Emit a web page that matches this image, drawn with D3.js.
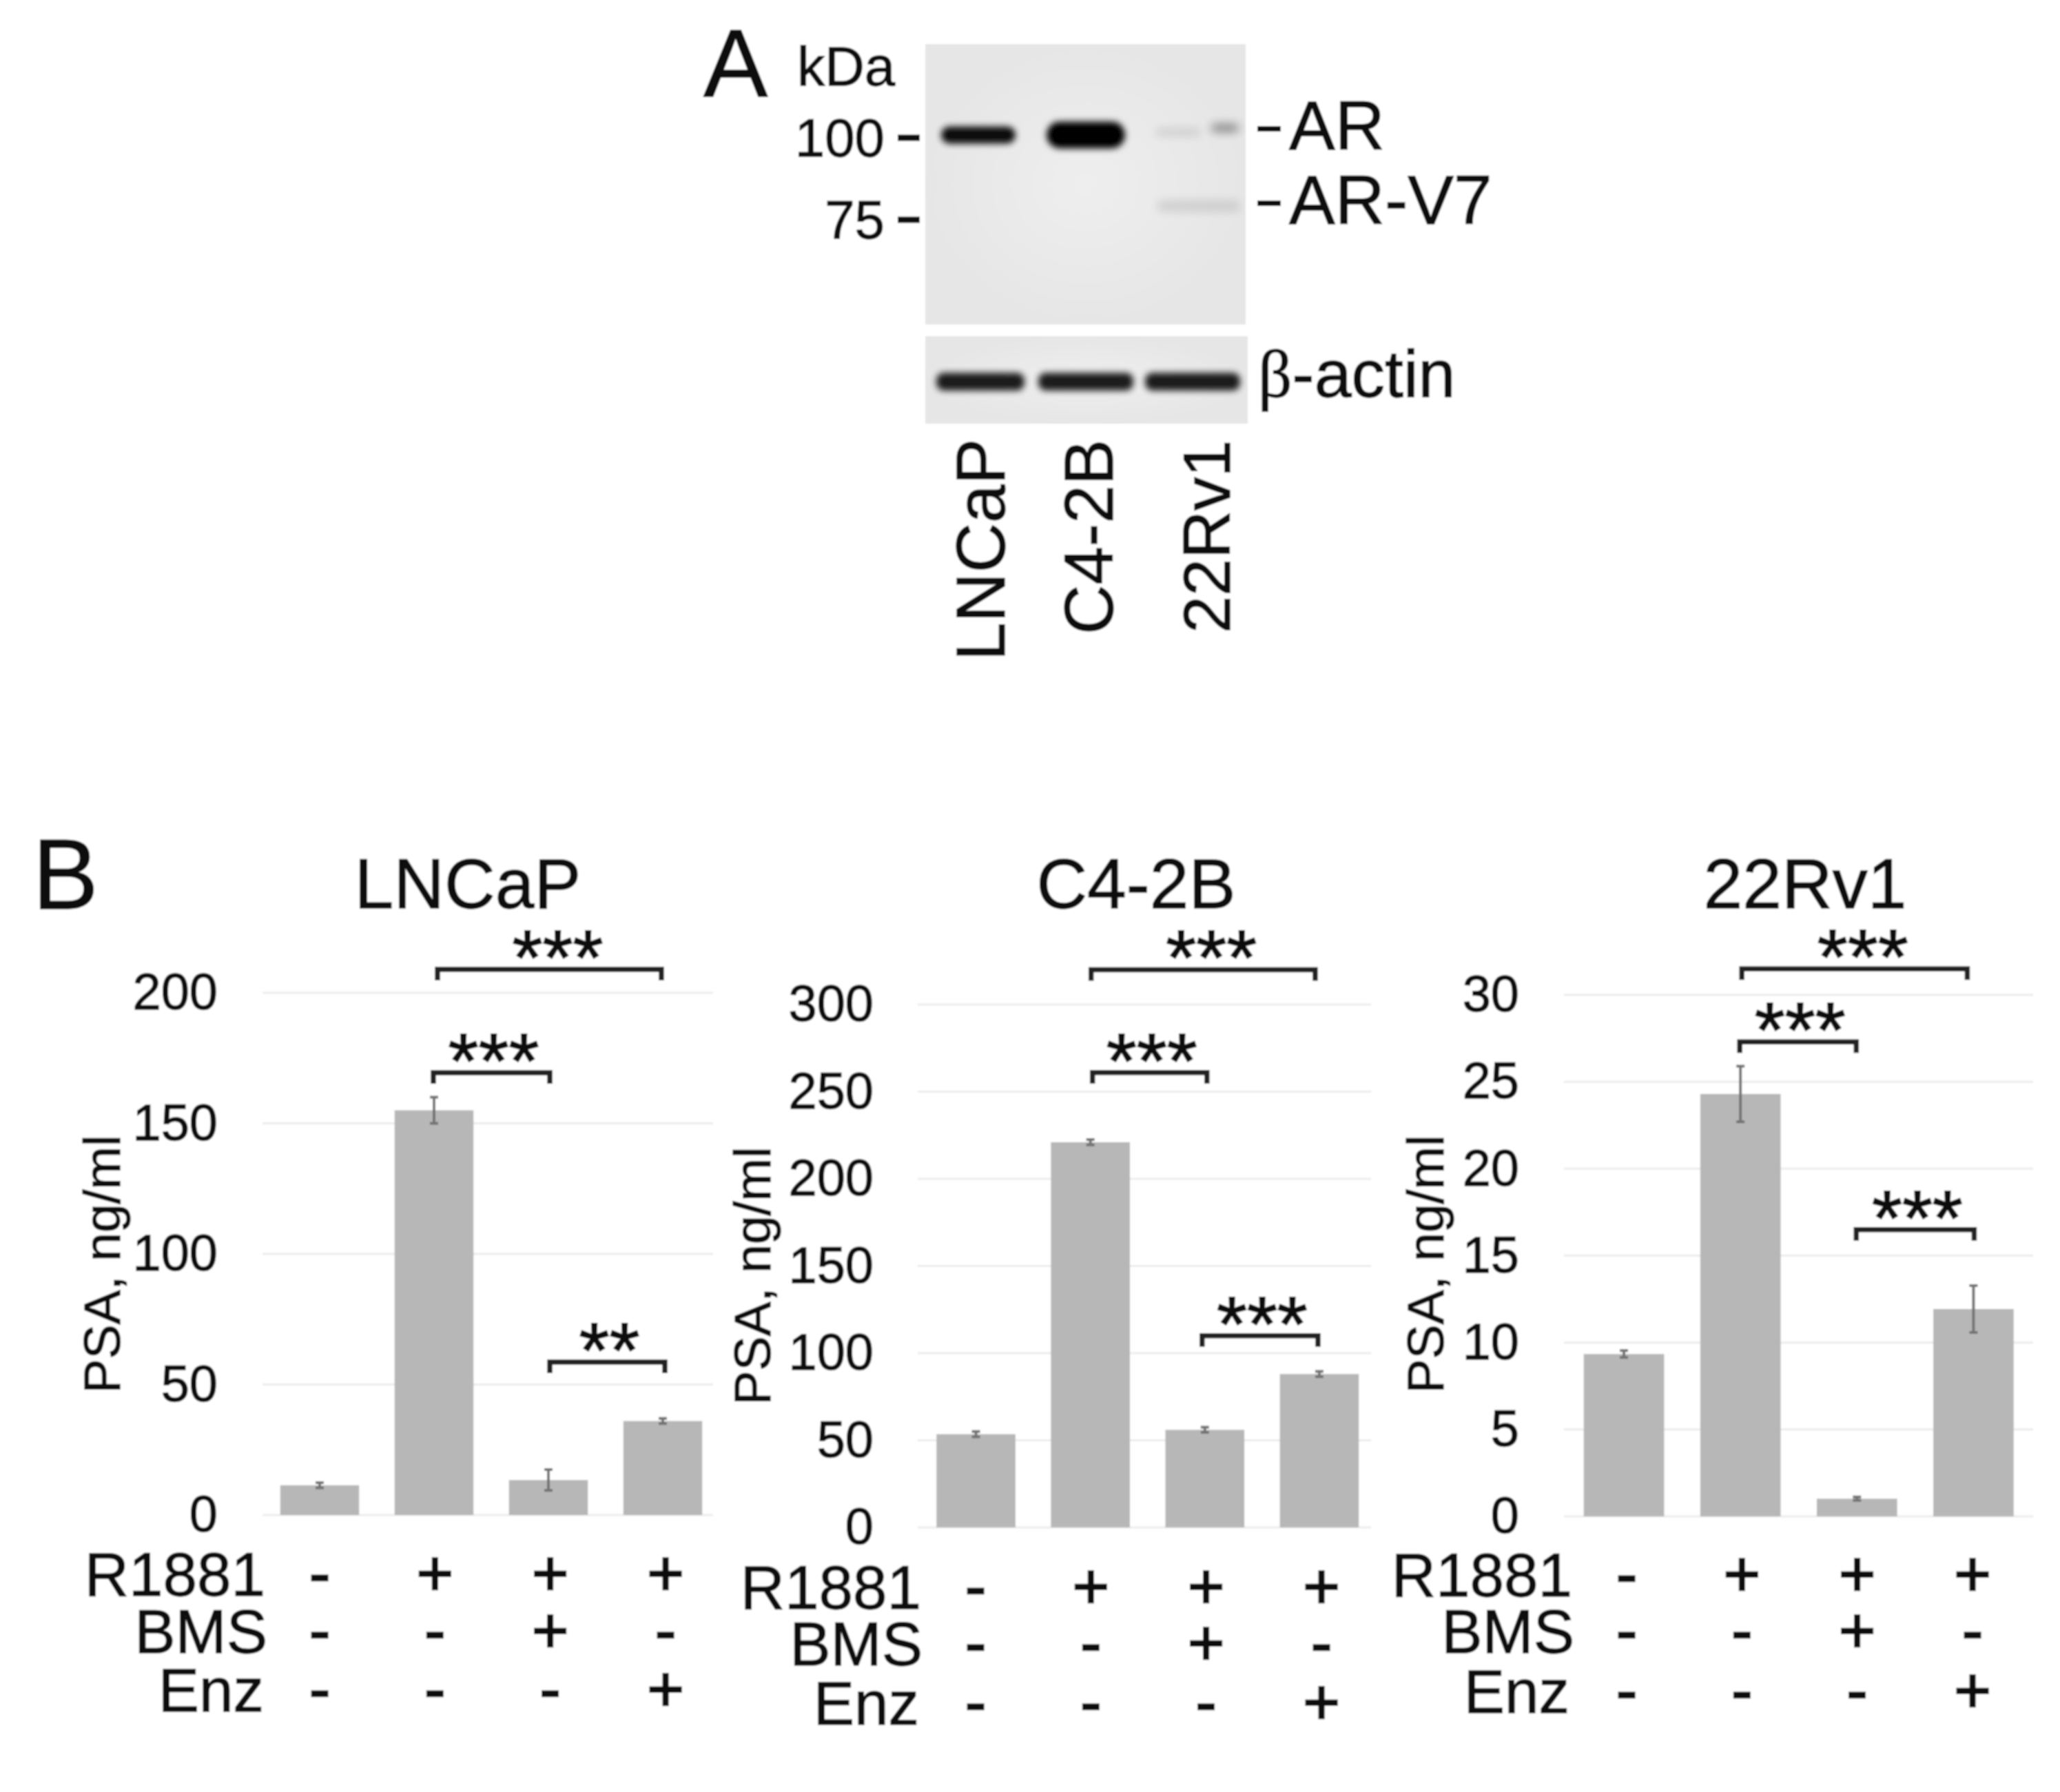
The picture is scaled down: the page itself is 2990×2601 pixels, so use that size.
<!DOCTYPE html>
<html><head><meta charset="utf-8">
<script src="https://cdn.jsdelivr.net/npm/d3@7"></script>
<style>
html,body{margin:0;padding:0;background:#fff}
svg{display:block}
text{font-family:"Liberation Sans",Arial,sans-serif;fill:#111;stroke:#111;stroke-width:1.3px}
</style></head><body>
<svg id="fig" width="2990" height="2601"></svg>
<script>
// ---------- data ----------
const lanes = ["LNCaP", "C4-2B", "22Rv1"];
const markerKDa = [100, 75];
const bandLane = ["LNCaP", "C4-2B", "22Rv1", "22Rv1", "22Rv1"];
const bandKDa = [101, 101, 102, 103.5, 78.7];
const bandDensity = [0.95, 1, 0.14, 0.45, 0.12];
const actinDensity = [0.88, 0.88, 0.88];
const conditions = ["ctrl", "R1881", "R1881+BMS", "R1881+Enz"];
const rowNames = ["R1881", "BMS", "Enz"];
const rowSigns = [["-", "+", "+", "+"], ["-", "-", "+", "-"], ["-", "-", "-", "+"]];

const lncapValues = [11.4, 155, 13.4, 36];
const lncapErrors = [1, 5, 4, 1];
const lncapTicks = [0, 50, 100, 150, 200];
const lncapBrackets = [[1, 3, 209, "***"], [1, 2, 169.4, "***"], [2, 3, 58.6, "**"]];

const c42bValues = [53.5, 221, 56, 88];
const c42bErrors = [1.5, 1.5, 1.5, 1.5];
const c42bTicks = [0, 50, 100, 150, 200, 250, 300];
const c42bBrackets = [[1, 3, 320, "***"], [1, 2, 261, "***"], [2, 3, 110, "***"]];

const rv1Values = [9.34, 24.3, 1.02, 11.93];
const rv1Errors = [0.2, 1.6, 0.1, 1.35];
const rv1Ticks = [0, 5, 10, 15, 20, 25, 30];
const rv1Brackets = [[1, 3, 31.5, "***"], [1, 2, 27.3, "***"], [2, 3, 16.5, "***"]];

// ---------- layout ----------
const panels = [
  {title: "LNCaP", values: lncapValues, errors: lncapErrors, ticks: lncapTicks, brackets: lncapBrackets,
   yr: [2199, 1441], xr: [381, 1045], grid: [381, 1035], tickX: 316, titleX: 679, labelX: 174, labelY: 1835,
   signX: [464, 966], rowY: [2285, 2368, 2453], rowX: [385, 388, 383],
   nudge: [[5, -2], [-1, 2], [2, 3]]},
  {title: "C4-2B", values: c42bValues, errors: c42bErrors, ticks: c42bTicks, brackets: c42bBrackets,
   yr: [2217, 1458], xr: [1333.5, 1998], grid: [1332, 1990], tickX: 1268, titleX: 1649, labelX: 1118, labelY: 1852,
   signX: [1416, 1918], rowY: [2304, 2386, 2472], rowX: [1337, 1339, 1334],
   nudge: [[1, -6], [3, 3], [-4, -2]]},
  {title: "22Rv1", values: rv1Values, errors: rv1Errors, ticks: rv1Ticks, brackets: rv1Brackets,
   yr: [2201, 1444], xr: [2272.5, 2949], grid: [2270, 2951], tickX: 2205, titleX: 2620, labelX: 2095, labelY: 1835,
   signX: [2361, 2863], rowY: [2286, 2368, 2455], rowX: [2282, 2285, 2278],
   nudge: [[2, -9], [-1, -1], [-1, 1]]}
];
const svg = d3.select("#fig");
const defs = svg.append("defs");
const addBlur = (id, s) => defs.append("filter").attr("id", id)
  .attr("x", "-30%").attr("y", "-120%").attr("width", "160%").attr("height", "340%")
  .append("feGaussianBlur").attr("stdDeviation", s);
addBlur("bandBlur", 5);
addBlur("faintBlur", 7);
defs.append("filter").attr("id", "soft").attr("filterUnits", "userSpaceOnUse")
  .attr("x", 0).attr("y", 0).attr("width", 2990).attr("height", 2601)
  .append("feGaussianBlur").attr("stdDeviation", 1.3);
const grad = defs.append("radialGradient").attr("id", "film");
grad.append("stop").attr("offset", "0%").attr("stop-color", "#eeeeee");
grad.append("stop").attr("offset", "100%").attr("stop-color", "#e6e6e6");

const root = svg.append("g").attr("filter", "url(#soft)");
root.append("rect").attr("width", 2990).attr("height", 2601).attr("fill", "#fff");

const label = (g, x, y, t, size, anchor = "start", rot = 0) => g.append("text")
  .attr("transform", `translate(${x},${y}) rotate(${rot})`)
  .attr("font-size", size).attr("text-anchor", anchor).text(t);

// ---------- panel A ----------
const A = root.append("g");
label(A, 1021, 140, "A", 140);
label(A, 1157, 124, "kDa", 80);
A.append("rect").attr("x", 1343).attr("y", 64).attr("width", 465).attr("height", 407).attr("fill", "url(#film)");
A.append("rect").attr("x", 1343).attr("y", 488).attr("width", 468).attr("height", 127).attr("fill", "url(#film)");

const laneX = d3.scalePoint().domain(lanes).range([1420, 1740]);
const kdaY = d3.scaleLog().domain([100, 75]).range([200, 319]);
const bandShape = [[0, 108, 25], [-4, 114, 39], [-30, 65, 9], [38, 40, 11], [0, 120, 15]];
bandLane.forEach((lane, i) => {
  const [dx, w, h] = bandShape[i];
  A.append("rect")
    .attr("x", laneX(lane) + dx - w / 2).attr("y", kdaY(bandKDa[i]) - h / 2)
    .attr("width", w).attr("height", h).attr("rx", h / 2)
    .attr("fill", "#000").attr("opacity", bandDensity[i])
    .attr("filter", bandDensity[i] < 0.6 ? "url(#faintBlur)" : "url(#bandBlur)");
});
const actinShape = [[3, 128], [-4, 138], [-9, 138]];
lanes.forEach((lane, i) => {
  A.append("rect")
    .attr("x", laneX(lane) + actinShape[i][0] - actinShape[i][1] / 2).attr("y", 541)
    .attr("width", actinShape[i][1]).attr("height", 26).attr("rx", 11)
    .attr("fill", "#000").attr("opacity", actinDensity[i]).attr("filter", "url(#bandBlur)");
});
markerKDa.forEach(k => {
  label(A, 1284, kdaY(k) + 27, String(k), 78, "end");
  A.append("rect").attr("x", 1303).attr("y", kdaY(k) - 4.5).attr("width", 32).attr("height", 9).attr("fill", "#111");
});
[["AR", 187, 217], ["AR-V7", 295, 325]].forEach(([t, dy, by]) => {
  A.append("rect").attr("x", 1825).attr("y", dy - 4).attr("width", 34).attr("height", 8).attr("fill", "#111");
  label(A, 1871, by, t, 100);
});
label(A, 1826, 576, "", 97).call(t => {
  t.append("tspan").style("font-family", "'Liberation Serif',serif").text("β");
  t.append("tspan").style("font-family", "'Liberation Sans',sans-serif").text("-actin");
});
[[1458, 959, 100], [1615, 921, 100], [1785, 919, 97]].forEach(([x, y, s], i) => label(A, x, y, lanes[i], s, "start", -90));

// ---------- panel B ----------
label(root, 47, 1319, "B", 144);

panels.forEach(p => {
  const g = root.append("g");
  const y = d3.scaleLinear().domain([0, d3.max(p.ticks)]).range(p.yr);
  const x = d3.scaleBand().domain(conditions).range(p.xr).paddingInner(0.31).paddingOuter(0.155);
  const cx = i => x(conditions[i]) + x.bandwidth() / 2;
  const sign = d3.scalePoint().domain(conditions).range(p.signX);

  const axis = g.append("g").attr("transform", `translate(${p.tickX},0)`)
    .call(d3.axisLeft(y).tickValues(p.ticks).tickSize(0).tickPadding(0));
  axis.select(".domain").remove();
  axis.selectAll("text").attr("font-size", 74).attr("dy", "0.32em").attr("x", 0);

  g.selectAll(".grid").data(p.ticks).join("line").attr("class", "grid")
    .attr("x1", p.grid[0]).attr("x2", p.grid[1])
    .attr("y1", d => y(d)).attr("y2", d => y(d))
    .attr("stroke", "#ececec").attr("stroke-width", 3);

  g.selectAll(".bar").data(p.values).join("rect").attr("class", "bar")
    .attr("x", (d, i) => x(conditions[i])).attr("width", x.bandwidth())
    .attr("y", d => y(d)).attr("height", d => y(0) - y(d)).attr("fill", "#b7b7b7");

  g.selectAll(".err").data(p.values).join("path").attr("class", "err")
    .attr("fill", "none").attr("stroke", "#737373").attr("stroke-width", 4)
    .attr("d", (d, i) => {
      const t = y(d + p.errors[i]), b = y(d - p.errors[i]), c = cx(i);
      return `M${c - 6},${t}H${c + 6}M${c},${t}V${b}M${c - 6},${b}H${c + 6}`;
    });

  label(g, p.titleX, 1318, p.title, 102, "middle");
  label(g, p.labelX, p.labelY, "PSA, ng/ml", 75, "middle", -90);

  p.brackets.forEach(([a, b, level, stars], i) => {
    const x0 = cx(a) + p.nudge[i][0], x1 = cx(b) + p.nudge[i][1], yy = y(level);
    g.append("path").attr("fill", "none").attr("stroke", "#222").attr("stroke-width", 7.5)
      .attr("d", `M${x0},${yy + 16}V${yy}H${x1}V${yy + 16}`);
    const shift = i === 0 ? 12 : 3;
    label(g, (x0 + x1) / 2 + shift, yy - 44 + 66, stars, 113, "middle").style("stroke-width", "1.8px");
  });

  rowNames.forEach((name, r) => {
    label(g, p.rowX[r], p.rowY[r] + 31, name, 89, "end");
    rowSigns[r].forEach((s, c) => {
      label(g, sign(conditions[c]), p.rowY[r] + 30, s, 92, "middle").style("stroke-width", "2.5px");
    });
  });
});
</script>
</body></html>
